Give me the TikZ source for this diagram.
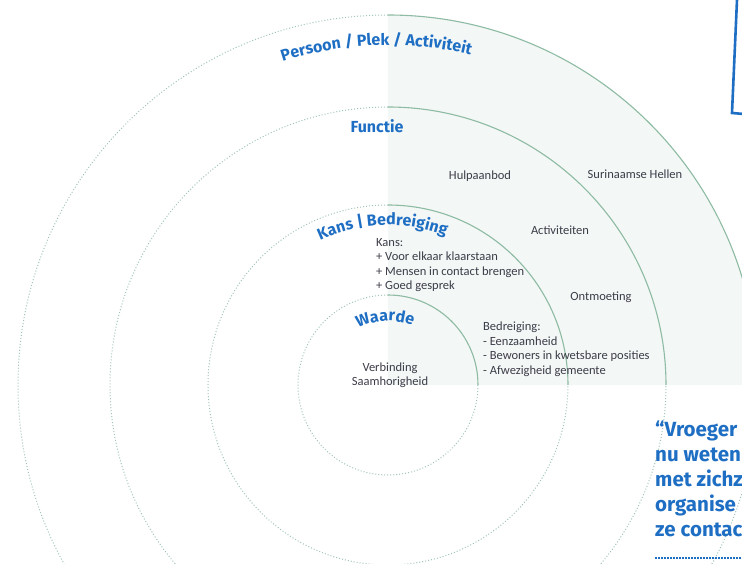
\documentclass[tikz,border=0pt]{standalone}
\usepackage{fontspec}
\setmainfont{Carlito}
\newfontfamily\kopfont{Fira Sans}
\usetikzlibrary{decorations.text}
\definecolor{ringgroen}{RGB}{141,187,163}
\definecolor{ringstip}{RGB}{160,196,184}
\definecolor{vlak}{RGB}{243,247,246}
\definecolor{kopblauw}{RGB}{30,110,195}
\definecolor{tekstgrijs}{RGB}{60,60,72}
\newcommand{\kopletter}{\kopfont\bfseries\fontsize{16}{18}\selectfont\color{kopblauw}}

\begin{document}
\begin{tikzpicture}[x=1pt,y=1pt,
    kop/.style={text=kopblauw,font=\kopfont\bfseries\fontsize{16}{18}\selectfont,inner sep=0pt},
    klein/.style={text=tekstgrijs,font=\fontsize{12.5}{14.5}\selectfont,inner sep=0pt},
    ring/.style={ringgroen,line width=1.1pt},
    stip/.style={ringstip,dotted,line width=1pt},
    boogtekst/.style={decorate,decoration={text along path,text align=center,
        text format delimiters={[}{]},text={[\kopletter]#1}}}]
    \useasboundingbox (-388,-178) rectangle (354,385);
    \begin{scope}
        \clip (-388,-178) rectangle (354,385);
        \fill[vlak] (0,0) -- (370,0) arc[start angle=0,end angle=90,radius=370] -- cycle;
        \foreach \r in {90,180,278,370}{
            \draw[stip] (90:\r) arc[start angle=90,end angle=360,radius=\r];
            \draw[ring] (\r,0) arc[start angle=0,end angle=90,radius=\r];
        }
        
        % kopjes langs de ringen
        \path[boogtekst={Persoon / Plek / Activiteit}] (122:340) arc[start angle=122,end angle=62,radius=340];
        \path[boogtekst={Kans | Bedreiging}] (140:160) arc[start angle=140,end angle=44,radius=160];
        \path[boogtekst={Waarde}] (170:64) arc[start angle=170,end angle=15,radius=64];
        \node[kop] (functie) at (-11,259) {Functie};
        
        \node[klein] (hulp) at (92,209) {Hulpaanbod};
        \node[klein] (surin) at (247,211) {Surinaamse Hellen};
        \node[klein] (activ) at (172,155) {Activiteiten};
        \node[klein] (ontm) at (213,88) {Ontmoeting};
        \node[klein,anchor=north west,align=left] (kans) at (-12,147) {Kans:\\+ Voor elkaar klaarstaan\\+ Mensen in contact brengen\\+ Goed gesprek};
        \node[klein,anchor=north west,align=left] (bedr) at (95,63) {Bedreiging:\\- Eenzaamheid\\- Bewoners in kwetsbare posities\\- Afwezigheid gemeente};
        \node[klein,align=center] (waarde) at (2,10) {Verbinding\\Saamhorigheid};
        
        \node[anchor=north west,align=left,inner sep=0pt,text=kopblauw,font=\kopfont\bfseries\fontsize{20.5}{25}\selectfont] (citaat) at (267,-36) {“Vroeger\\nu weten\\met zichz\\organise\\ze contac};
        \draw[kopblauw,line width=1.4pt,dash pattern=on 2pt off 1pt] (267,-173) -- (354,-173);
        \draw[kopblauw,line width=2.6pt] (349,385) -- (344,272) -- (356,271);
    \end{scope}
\end{tikzpicture}
\end{document}
